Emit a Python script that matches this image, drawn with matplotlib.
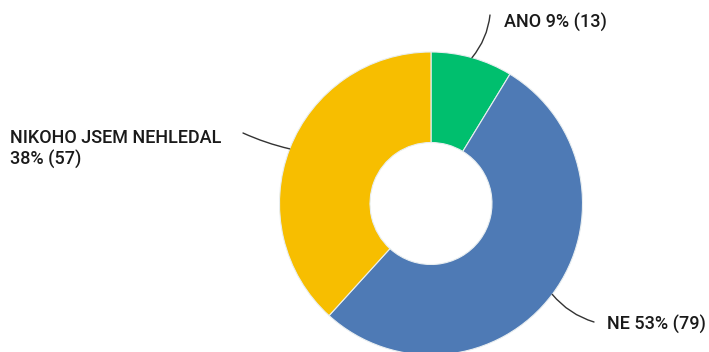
import numpy as np
import matplotlib
matplotlib.use('Agg')
import matplotlib.pyplot as plt

labels = ['ANO', 'NE', 'NIKOHO JSEM NEHLEDAL']
counts = [13, 79, 57]
colors = ['#00bf6e', '#4e7ab5', '#f7be00']

W, H = 709, 352
cx, cy = 431, H - 203.5
R = 151.5
hole = 61

fig = plt.figure(figsize=(W / 100, H / 100), dpi=100)
ax = fig.add_axes([0, 0, 1, 1])

ax.pie(counts, colors=colors, startangle=90, counterclock=False,
       center=(cx, cy), radius=R,
       wedgeprops=dict(width=R - hole, edgecolor='#e8eef0', linewidth=0.8))
ax.set_xlim(0, W)
ax.set_ylim(0, H)
ax.set_aspect('equal')
ax.axis('off')

total = sum(counts)
pct = [round(c / total * 100) for c in counts]
texts = [f'{labels[0]} {pct[0]}% ({counts[0]})',
         f'{labels[1]} {pct[1]}% ({counts[1]})',
         f'{labels[2]}\n{pct[2]}% ({counts[2]})']

# label anchors (text position, leader end, curvature)
label_pos = [((504, H - 22), (490, H - 15), 'left', -0.15),
             ((607, H - 325), (594, H - 322), 'left', -0.15),
             ((10, H - 149), (243, H - 133), 'left', 0.05)]

cum = np.cumsum([0] + counts)
for i, c in enumerate(counts):
    mid = (cum[i] + c / 2) / total * 2 * np.pi
    sx = cx + R * np.sin(mid)
    sy = cy + R * np.cos(mid)
    (tx, ty), (ex, ey), ha, rad = label_pos[i]
    ax.annotate('', xy=(sx, sy), xytext=(ex, ey),
                arrowprops=dict(arrowstyle='-', color='#333333', lw=1.0,
                                connectionstyle=f'arc3,rad={rad}',
                                shrinkA=0, shrinkB=0))
    ax.text(tx, ty, texts[i], ha=ha, va='center', fontsize=13,
            family='Roboto', weight='medium', color='#1a1a1a',
            linespacing=1.2)

fig.savefig('out.png', dpi=100, facecolor='white')
